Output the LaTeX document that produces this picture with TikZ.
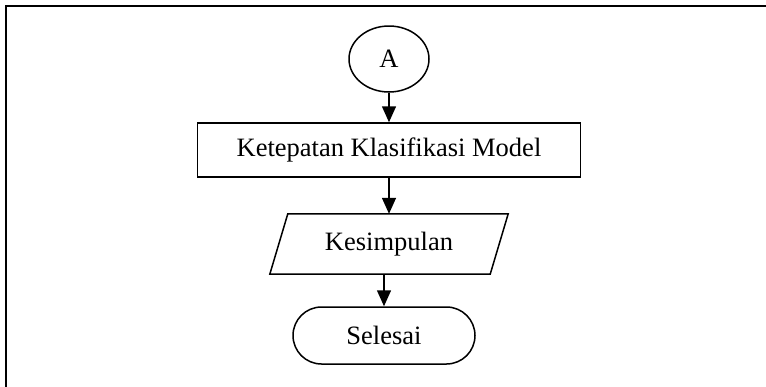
\documentclass[tikz,border=0pt]{standalone}
\usepackage{fontspec}
\setmainfont{Liberation Serif}
\usetikzlibrary{arrows.meta,shapes.geometric}
\begin{document}
\begin{tikzpicture}[x=1pt,y=-1pt,
  every node/.style={font=\fontsize{26.5}{30}\selectfont, inner sep=0pt},
  shapeline/.style={draw=black, line width=1.5pt},
  conn/.style={line width=1.5pt, -{Triangle[width=14pt,length=16pt]}},
  frameline/.style={line width=2pt}]
\useasboundingbox (0,0) rectangle (766,386);
\coordinate (fbl) at (6,390);
\coordinate (ftl) at (6,6);
\coordinate (ftr) at (770,6);
\draw[frameline] (fbl) -- (ftl) -- (ftr);
\node[shapeline, ellipse, minimum width=80pt, minimum height=66pt] (a) at (389,59) {A};
\node[shapeline, rectangle, minimum width=383pt, minimum height=54pt] (rect) at (389,150) {Ketepatan Klasifikasi Model};
\node[rectangle, minimum width=220pt, minimum height=60pt] (para) at (389,244) {Kesimpulan};
\draw[shapeline] ([xshift=-9pt]para.south west) -- ([xshift=9pt]para.north west) -- ([xshift=9pt]para.north east) -- ([xshift=-9pt]para.south east) -- cycle;
\node[shapeline, rectangle, rounded corners=28.5pt, minimum width=182pt, minimum height=57pt] (term) at (384,335.5) {Selesai};
\draw[conn] (a.south -| rect.north) -- (rect.north);
\draw[conn] (rect.south) -- (para.north);
\draw[conn] (term.north |- para.south) -- (term.north);
\end{tikzpicture}
\end{document}
